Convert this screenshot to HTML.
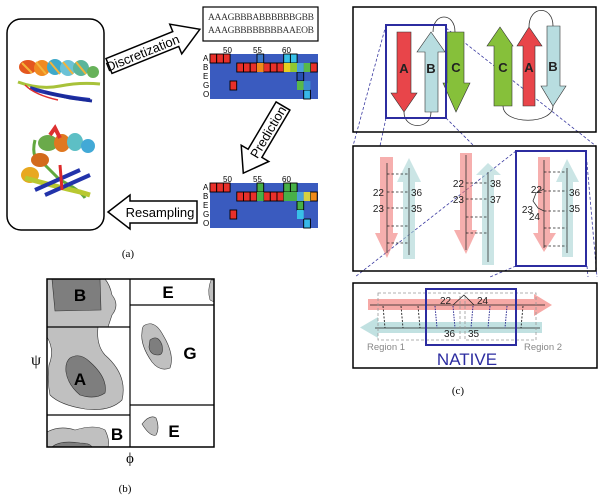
<!DOCTYPE html>
<html><head><meta charset="utf-8"><style>
html,body{margin:0;padding:0;background:#fff;}
svg{display:block;}
text{font-family:"Liberation Sans",sans-serif;}
.serif{font-family:"Liberation Serif",serif;}
</style></head><body>
<svg width="603" height="499" viewBox="0 0 603 499" xmlns="http://www.w3.org/2000/svg">
<!-- Panel (a) -->
<rect x="7" y="19" width="97" height="211" rx="14" fill="#fff" stroke="#000" stroke-width="1.5"/>
<!-- protein 1 -->
<g>
<path d="M18 82 Q40 90 60 86 T100 84" stroke="#a8c23a" stroke-width="3" fill="none"/>
<path d="M30 88 Q55 96 90 100" stroke="#2233aa" stroke-width="4" fill="none"/>
<path d="M45 92 L70 98 L92 101" stroke="#1a2a9a" stroke-width="3" fill="none"/>
<path d="M25 85 Q35 95 58 100" stroke="#e03030" stroke-width="1.5" fill="none"/>
<ellipse cx="28" cy="67" rx="9" ry="7" fill="#e4571e"/>
<ellipse cx="42" cy="68" rx="8" ry="8" fill="#f08a20"/>
<ellipse cx="55" cy="67" rx="8" ry="8" fill="#3fa9c9"/>
<ellipse cx="68" cy="68" rx="8" ry="8" fill="#6cc2d6"/>
<ellipse cx="81" cy="68" rx="8" ry="8" fill="#5bb59a"/>
<ellipse cx="93" cy="72" rx="6" ry="6" fill="#67b25a"/>
<path d="M22 63 L32 73 M36 62 L46 74 M50 62 L60 74 M63 62 L73 74 M76 62 L86 74" stroke="#f3b43a" stroke-width="2"/>
</g>
<!-- protein 2 -->
<g>
<path d="M35 140 Q30 160 45 165 L60 180 Q80 190 85 198" stroke="#62a83e" stroke-width="3" fill="none"/>
<ellipse cx="48" cy="143" rx="10" ry="8" fill="#6aaa4a"/>
<ellipse cx="62" cy="143" rx="8" ry="9" fill="#e07820"/>
<ellipse cx="75" cy="142" rx="8" ry="9" fill="#5dbfc5"/>
<ellipse cx="88" cy="146" rx="7" ry="7" fill="#42a9d6"/>
<ellipse cx="40" cy="160" rx="9" ry="7" fill="#d36a1c"/>
<ellipse cx="30" cy="175" rx="9" ry="8" fill="#e8a820"/>
<path d="M25 178 Q50 185 80 192 L90 195" stroke="#b8c830" stroke-width="5" fill="none"/>
<path d="M35 190 L80 170 M45 195 L90 175" stroke="#2233aa" stroke-width="4"/>
<path d="M60 165 L62 190" stroke="#dd2a2a" stroke-width="3"/>
<path d="M50 135 L55 128 L60 138" stroke="#dd3030" stroke-width="4" fill="none"/>
</g>
<!-- Discretization arrow -->
<g transform="translate(109,66) rotate(-22)">
<polygon points="0,-8 72,-8 72,-16 98,0 72,16 72,8 0,8" fill="#fff" stroke="#000" stroke-width="1.5"/>
<text x="36" y="5" font-size="13" text-anchor="middle">Discretization</text>
</g>
<!-- sequence box -->
<rect x="203" y="7" width="115" height="34" fill="#fff" stroke="#000" stroke-width="1.2"/>
<text class="serif" x="208" y="20" font-size="9.5" fill="#333" textLength="106">AAAGBBBABBBBBBGBB</text>
<text class="serif" x="208" y="33" font-size="9.5" fill="#333" textLength="106">AAAGBBBBBBBBAAEOB</text>
<!-- heatmap 1 -->
<g class="serif" font-size="8">
<text x="223" y="53">50</text><text x="253" y="53">55</text><text x="282" y="53">60</text>
<text x="203" y="61">A</text><text x="203" y="70">B</text><text x="203" y="79">E</text><text x="203" y="88">G</text><text x="203" y="97">O</text>
</g>
<rect x="210" y="54" width="108" height="45" fill="#3a5bbf"/>
<g stroke="#000" stroke-width="0.9">
<rect x="210" y="54" width="6.7" height="9" fill="#e8302a"/><rect x="216.7" y="54" width="6.7" height="9" fill="#e8302a"/><rect x="223.4" y="54" width="6.7" height="9" fill="#e8302a"/>
<rect x="257" y="54" width="6.7" height="9" fill="#3b78c8"/>
<rect x="283.7" y="54" width="6.7" height="9" fill="#38c0e8"/><rect x="290.4" y="54" width="6.7" height="9" fill="#38c0e8"/>
<rect x="236.8" y="63" width="6.7" height="9" fill="#e8302a"/><rect x="243.5" y="63" width="6.7" height="9" fill="#e8302a"/><rect x="250.2" y="63" width="6.7" height="9" fill="#e8302a"/>
<rect x="263.6" y="63" width="6.7" height="9" fill="#e8302a"/><rect x="270.3" y="63" width="6.7" height="9" fill="#e8302a"/><rect x="277" y="63" width="6.7" height="9" fill="#e8302a"/>
<rect x="310.5" y="63" width="6.7" height="9" fill="#e8302a"/>
<rect x="297" y="72" width="6.7" height="9" fill="#2850b0"/>
<rect x="230" y="81" width="6.7" height="9" fill="#e8302a"/>
<rect x="303.7" y="90" width="6.7" height="9" fill="#38b8e8"/>
</g>
<rect x="257" y="63" width="6.7" height="9" fill="#f08a1a"/>
<rect x="283.7" y="63" width="6.7" height="9" fill="#e8d020"/>
<rect x="290.4" y="63" width="6.7" height="9" fill="#90c830"/>
<rect x="297" y="63" width="6.7" height="9" fill="#4aa0d8"/>
<rect x="303.7" y="63" width="6.7" height="9" fill="#58b848"/>
<rect x="297" y="81" width="6.7" height="9" fill="#58b848"/>
<rect x="303.7" y="81" width="6.7" height="9" fill="#3a8ad0"/>
<!-- Prediction arrow -->
<g transform="translate(283,106) rotate(120.6)">
<polygon points="0,-8 55,-8 55,-16 78,0 55,16 55,8 0,8" fill="#fff" stroke="#000" stroke-width="1.5"/>
<text x="30" y="5" font-size="13" text-anchor="middle" transform="rotate(180 30 0)">Prediction</text>
</g>
<!-- heatmap 2 -->
<g class="serif" font-size="8">
<text x="223" y="182">50</text><text x="253" y="182">55</text><text x="282" y="182">60</text>
<text x="203" y="190">A</text><text x="203" y="199">B</text><text x="203" y="208">E</text><text x="203" y="217">G</text><text x="203" y="226">O</text>
</g>
<rect x="210" y="183" width="108" height="45" fill="#3a5bbf"/>
<g stroke="#000" stroke-width="0.9">
<rect x="210" y="183" width="6.7" height="9" fill="#e8302a"/><rect x="216.7" y="183" width="6.7" height="9" fill="#e8302a"/><rect x="223.4" y="183" width="6.7" height="9" fill="#e8302a"/>
<rect x="257" y="183" width="6.7" height="9" fill="#48b048"/>
<rect x="283.7" y="183" width="6.7" height="9" fill="#48b048"/><rect x="290.4" y="183" width="6.7" height="9" fill="#48b048"/>
<rect x="236.8" y="192" width="6.7" height="9" fill="#e8302a"/><rect x="243.5" y="192" width="6.7" height="9" fill="#e8302a"/><rect x="250.2" y="192" width="6.7" height="9" fill="#e8302a"/>
<rect x="263.6" y="192" width="6.7" height="9" fill="#e8302a"/><rect x="270.3" y="192" width="6.7" height="9" fill="#e8302a"/><rect x="277" y="192" width="6.7" height="9" fill="#e8302a"/>
<rect x="310.5" y="192" width="6.7" height="9" fill="#f08a1a"/>
<rect x="297" y="201" width="6.7" height="9" fill="#48b048"/>
<rect x="230" y="210" width="6.7" height="9" fill="#e8302a"/>
<rect x="303.7" y="219" width="6.7" height="9" fill="#38b8e8"/>
</g>
<rect x="257" y="192" width="6.7" height="9" fill="#48b048"/>
<rect x="283.7" y="192" width="13.4" height="9" fill="#48b048"/>
<rect x="297" y="192" width="6.7" height="9" fill="#4aa0d8"/>
<rect x="303.7" y="192" width="6.7" height="9" fill="#d8d040"/>
<rect x="297" y="210" width="6.7" height="9" fill="#38c0e8"/>
<!-- Resampling arrow -->
<polygon points="197,201 130,201 130,195 108,212 130,229 130,223 197,223" fill="#fff" stroke="#000" stroke-width="1.5"/>
<text x="160" y="217" font-size="13" text-anchor="middle">Resampling</text>
<text class="serif" x="128" y="257" font-size="11" text-anchor="middle">(a)</text>

<!-- Panel (b) -->
<g>
<rect x="47" y="279" width="167" height="168" fill="#fff"/>
<!-- contours left top -->
<path d="M47 279 L105 279 Q110 285 112 295 Q120 305 112 315 L108 327 L47 327 Z" fill="#c0c0c0" stroke="#333" stroke-width="0.6"/>
<path d="M52 279 L100 279 L101 310 L55 311 Z" fill="#7e7e7e" stroke="#333" stroke-width="0.6"/>
<!-- middle A -->
<path d="M47 327 L98 327 Q96 345 105 355 Q128 375 122 400 Q110 412 85 409 Q60 405 50 395 Q47 380 49 365 Q55 350 47 337 Z" fill="#c0c0c0" stroke="#333" stroke-width="0.6"/>
<path d="M70 358 Q80 352 90 362 Q108 378 105 393 Q95 400 80 395 Q68 385 66 372 Q65 362 70 358 Z" fill="#7e7e7e" stroke="#333" stroke-width="0.6"/>
<!-- bottom B -->
<path d="M47 432 Q60 425 75 430 Q95 424 105 430 Q110 440 108 447 L47 447 Z" fill="#c0c0c0" stroke="#333" stroke-width="0.6"/>
<path d="M52 447 Q60 440 80 443 Q90 443 92 447 Z" fill="#7e7e7e" stroke="#333" stroke-width="0.6"/>
<!-- G -->
<path d="M145 325 Q155 320 163 335 Q175 355 170 368 Q160 372 152 362 Q140 345 142 332 Q142 326 145 325 Z" fill="#c0c0c0" stroke="#333" stroke-width="0.6"/>
<path d="M150 340 Q158 334 162 345 Q164 355 158 355 Q150 355 149 347 Z" fill="#7e7e7e" stroke="#333" stroke-width="0.6"/>
<!-- E small -->
<path d="M142 424 Q150 414 156 418 Q160 428 156 435 Q150 437 142 424 Z" fill="#c0c0c0" stroke="#333" stroke-width="0.6"/>
<path d="M211 280 Q207 290 210 300 L214 302 L214 280 Z" fill="#c0c0c0" stroke="#333" stroke-width="0.5"/>
<rect x="47" y="279" width="167" height="168" fill="none" stroke="#000" stroke-width="1.5"/>
<line x1="130" y1="279" x2="130" y2="447" stroke="#000" stroke-width="1.2"/>
<line x1="47" y1="327" x2="130" y2="327" stroke="#000" stroke-width="1.2"/>
<line x1="47" y1="415" x2="130" y2="415" stroke="#000" stroke-width="1.2"/>
<line x1="130" y1="305" x2="214" y2="305" stroke="#000" stroke-width="1.2"/>
<line x1="130" y1="405" x2="214" y2="405" stroke="#000" stroke-width="1.2"/>
<g font-weight="bold" font-size="17" text-anchor="middle">
<text x="80" y="301">B</text><text x="168" y="298">E</text><text x="80" y="385">A</text><text x="190" y="359">G</text><text x="117" y="440">B</text><text x="174" y="437">E</text>
</g>
<text class="serif" x="36" y="365" font-size="16" text-anchor="middle">ψ</text>
<text class="serif" x="130" y="463" font-size="15" text-anchor="middle">ϕ</text>
<text class="serif" x="125" y="492" font-size="11" text-anchor="middle">(b)</text>
</g>

<!-- Panel (c) -->
<!-- dashed connectors -->
<g stroke="#3a3aa0" stroke-width="0.8" stroke-dasharray="3,2" fill="none">
<line x1="386" y1="25" x2="353" y2="146"/>
<line x1="386" y1="118" x2="380" y2="146"/>
<line x1="446" y1="28" x2="596" y2="146"/>
<line x1="446" y1="118" x2="474" y2="146"/>
<line x1="516" y1="151" x2="355" y2="277"/>
<line x1="516" y1="266" x2="490" y2="277"/>
<line x1="586" y1="152" x2="597" y2="277"/>
<line x1="587" y1="266" x2="588" y2="277"/>
</g>
<rect x="353" y="7" width="243" height="125" fill="none" stroke="#000" stroke-width="1.5"/>
<!-- loops -->
<g fill="none" stroke="#333" stroke-width="0.8">
<path d="M433 32 C433 12 455 12 455 32"/>
<path d="M404 112 C404 130 431 130 431 112"/>
<path d="M529 27 C529 5 553 5 553 26"/>
<path d="M503 106 C503 125 553 125 553 106"/>
</g>
<!-- arrows top -->
<g stroke="#333" stroke-width="0.6">
<polygon points="397,32 411,32 411,93 417,93 404,112 391,93 397,93" fill="#e8454a"/>
<polygon points="425,112 438,112 438,52 445,52 431,32 417,52 425,52" fill="#b8dde0"/>
<polygon points="447,32 464,32 464,83 470,83 456,112 443,83 447,83" fill="#86c03a"/>
<polygon points="494,106 512,106 512,46 513,46 500,27 487,46 494,46" fill="#86c03a"/>
<polygon points="523,106 535,106 535,46 542,46 529,27 517,46 523,46" fill="#e8454a"/>
<polygon points="547,26 560,26 560,86 566,86 553,106 541,86 547,86" fill="#b8dde0"/>
</g>
<g font-weight="bold" font-size="13" fill="#222" text-anchor="middle">
<text x="404" y="73">A</text><text x="431" y="73">B</text><text x="456" y="72">C</text>
<text x="503" y="72">C</text><text x="529" y="72">A</text><text x="553" y="71">B</text>
</g>
<rect x="386" y="25" width="60" height="93" fill="none" stroke="#2c2ca0" stroke-width="2"/>

<!-- middle box -->
<rect x="353" y="146" width="243" height="125" fill="none" stroke="#000" stroke-width="1.5"/>
<g fill-opacity="0.6">
<polygon points="380,157 393,157 393,233 398,233 387,258 375,233 380,233" fill="#f07a78"/>
<polygon points="403,259 415,259 415,182 421,182 409,158 397,182 403,182" fill="#a8d4d4"/>
<polygon points="460,153 472,153 472,230 477,230 466,254 454,230 460,230" fill="#f07a78"/>
<polygon points="482,265 494,265 494,175 501,175 488,163 476,175 482,175" fill="#a8d4d4"/>
<polygon points="538,157 550,157 550,233 556,233 544,252 533,233 538,233" fill="#f07a78"/>
<polygon points="562,257 573,257 573,182 579,182 567,159 556,182 562,182" fill="#a8d4d4"/>
</g>
<g stroke="#333" stroke-width="0.8">
<line x1="387" y1="163" x2="387" y2="253"/><line x1="409" y1="168" x2="409" y2="255"/>
<line x1="466" y1="155" x2="466" y2="250"/><line x1="488" y1="172" x2="488" y2="262"/>
<line x1="544" y1="160" x2="544" y2="248"/><line x1="567" y1="168" x2="567" y2="253"/>
</g>
<g stroke="#222" stroke-width="0.8" stroke-dasharray="2.5,2">
<line x1="387" y1="174" x2="409" y2="174"/><line x1="387" y1="192" x2="409" y2="192"/><line x1="387" y1="208" x2="409" y2="208"/><line x1="387" y1="226" x2="409" y2="226"/><line x1="387" y1="243" x2="409" y2="243"/>
<line x1="466" y1="183" x2="488" y2="183"/><line x1="466" y1="199" x2="488" y2="199"/><line x1="466" y1="217" x2="488" y2="217"/><line x1="466" y1="233" x2="488" y2="233"/>
<line x1="544" y1="172" x2="567" y2="172"/><line x1="544" y1="191" x2="567" y2="191"/><line x1="544" y1="211" x2="567" y2="211"/><line x1="544" y1="228" x2="567" y2="228"/><line x1="544" y1="246" x2="567" y2="246"/>
</g>
<polyline points="544,189 536,193 533,201 538,208 544,211" fill="none" stroke="#333" stroke-width="0.8"/>
<g font-size="10" fill="#222">
<text x="384" y="196" text-anchor="end">22</text><text x="411" y="196">36</text>
<text x="384" y="212" text-anchor="end">23</text><text x="411" y="212">35</text>
<text x="464" y="187" text-anchor="end">22</text><text x="490" y="187">38</text>
<text x="464" y="203" text-anchor="end">23</text><text x="490" y="203">37</text>
<text x="542" y="193" text-anchor="end">22</text><text x="569" y="196">36</text>
<text x="533" y="213" text-anchor="end">23</text><text x="569" y="212">35</text>
<text x="540" y="220" text-anchor="end">24</text>
</g>
<rect x="516" y="151" width="70" height="115" fill="none" stroke="#2c2ca0" stroke-width="2"/>

<!-- bottom box -->
<rect x="353" y="283" width="244" height="85" fill="none" stroke="#000" stroke-width="1.5"/>
<polygon points="368,299 534,299 534,294 552,305 534,316 534,310 368,310" fill="#f49a96" fill-opacity="0.85"/>
<polygon points="542,322 378,322 378,317 360,327.5 378,338 378,333 542,333" fill="#b6dcdc" fill-opacity="0.85"/>
<line x1="370" y1="305" x2="545" y2="305" stroke="#222" stroke-width="0.8"/>
<line x1="375" y1="328" x2="540" y2="328" stroke="#222" stroke-width="0.8"/>
<g stroke="#222" stroke-width="0.9" stroke-dasharray="2,1.5">
<line x1="383" y1="306" x2="385" y2="328"/><line x1="401" y1="306" x2="403" y2="328"/><line x1="418" y1="306" x2="420" y2="328"/>
<line x1="523" y1="306" x2="521" y2="328"/>
</g>
<g stroke="#2a2a90" stroke-width="1" stroke-dasharray="1.5,1.2">
<line x1="435" y1="306" x2="437" y2="328"/><line x1="453" y1="306" x2="455" y2="328"/><line x1="473" y1="306" x2="471" y2="328"/><line x1="490" y1="306" x2="488" y2="328"/><line x1="507" y1="306" x2="505" y2="328"/>
</g>
<g fill="none" stroke="#999" stroke-width="0.8" stroke-dasharray="3,2">
<rect x="378" y="293" width="82" height="47"/>
<rect x="465" y="293" width="71" height="47"/>
</g>
<polyline points="453,305 464,295 474,305" fill="none" stroke="#222" stroke-width="0.8"/>
<g font-size="10" fill="#222">
<text x="440" y="304">22</text><text x="477" y="304">24</text>
<text x="444" y="337">36</text><text x="468" y="337">35</text>
</g>
<rect x="426" y="289" width="90" height="56" fill="none" stroke="#2c2ca0" stroke-width="2"/>
<text x="367" y="350" font-size="9.5" fill="#888">Region 1</text>
<text x="524" y="350" font-size="9.5" fill="#888">Region 2</text>
<text x="467" y="365" font-size="17" fill="#2c2ca0" text-anchor="middle">NATIVE</text>
<text class="serif" x="458" y="394" font-size="11" text-anchor="middle">(c)</text>
</svg>
</body></html>
